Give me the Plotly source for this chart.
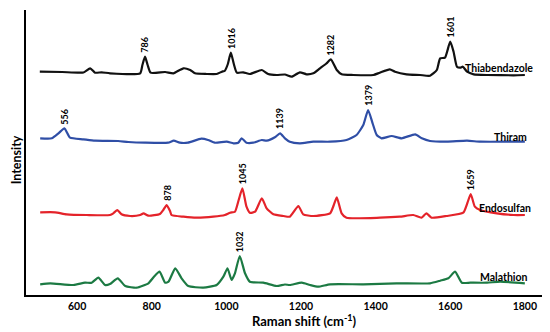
import plotly.graph_objects as go

# ---- data ----
thia_x = [500, 560, 617, 635, 648, 666, 688, 769, 775, 782, 789, 797, 836, 858, 885, 903, 916, 947, 974, 988, 996,
          1004, 1012, 1020, 1028, 1045, 1063, 1095, 1112, 1135, 1157, 1175, 1197, 1215, 1233, 1251, 1268, 1280, 1296,
          1309, 1340, 1394, 1411, 1438, 1452, 1483, 1519, 1546, 1564, 1573, 1586, 1600, 1609, 1618, 1627, 1634, 1645,
          1663, 1699, 1770, 1800]
thia_y = [3.3, 3.0, 2.5, 6.7, 2.3, 2.7, 1.7, 1.7, 10, 18.3, 10, 2.3, 3, 1.7, 6.7, 5, 1.7, 1, 1, 3.3, 4.3,
          11, 22.3, 11, 2.3, 2.7, 1, 5, 1, 0, 0.5, -1.7, 2.7, 0.7, 1.7, 6.7, 11.5, 15.7, 5,
          0.7, 0, 0, 2.3, 5.7, 3.3, 0.7, 0, -0.7, 5, 16.7, 17.3, 33.3, 23.3, 8.3, 7.3, 8.3, 3.3,
          0.7, 0, -0.3, 0]

thiram_x = [501, 532, 550, 566, 581, 617, 648, 710, 737, 782, 844, 859, 875, 897, 933, 951, 969, 1001, 1019, 1032,
            1041, 1054, 1072, 1095, 1108, 1130, 1144, 1157, 1170, 1197, 1233, 1278, 1322, 1349, 1367, 1380, 1392,
            1403, 1416, 1443, 1470, 1506, 1524, 1546, 1591, 1645, 1681, 1770, 1800]
thiram_y = [4.7, 4.7, 9.7, 14.7, 5.3, 3.7, 2.3, 2, 1, 0.3, 0.3, 2.3, 0.3, 0.3, 4.3, 3, 0.3, 1.3, -0.3, 0.3,
            4.7, 0.3, 0.3, 3, 2.3, 5.7, 9.7, 4.7, 1.3, -0.3, 1.3, 1.3, 3, 8, 18, 33, 19.7,
            8, 4.7, 7, 4.7, 8.7, 4.7, 2, 1.3, 2.3, 1.3, 1.3, 1.3]

endo_x = [501, 541, 572, 626, 688, 697, 708, 719, 742, 769, 778, 791, 822, 831, 840, 849, 853, 885, 920, 965, 996,
          1010, 1023, 1033, 1043, 1054, 1063, 1077, 1095, 1108, 1126, 1153, 1170, 1193, 1206, 1233, 1278, 1288, 1296,
          1309, 1322, 1412, 1465, 1501, 1523, 1536, 1550, 1590, 1635, 1646, 1655, 1666, 1680, 1725, 1770, 1800]
endo_y = [5.7, 5.7, 3.7, 3, 3, 4.7, 8, 3.7, 2, 3, 4.7, 2.3, 4, 8, 13, 7, 3, 1.3, 0.3, 1.3, 3,
          5.3, 6.3, 18, 29.7, 11.3, 5.3, 6.3, 19.7, 9.7, 3.7, 2, 1.3, 12, 3.7, 2, 4.7, 13, 20.7,
          4.7, 0.3, 0.3, 1.3, 3, 0.3, 4.7, 0.3, 2, 5.3, 15, 24, 11.3, 8, 4.7, 3, 3]

mala_x = [501, 528, 590, 621, 639, 657, 675, 688, 709, 729, 760, 791, 806, 821, 836, 845, 863, 880, 898, 938, 974,
          992, 1003, 1014, 1023, 1036, 1050, 1063, 1099, 1135, 1157, 1170, 1202, 1224, 1246, 1278, 1367, 1456, 1546,
          1573, 1595, 1613, 1631, 1654, 1699, 1734, 1800]
mala_y = [3.7, 4.7, 3, 5.3, 5.3, 10.3, 3, 4, 9.7, 2, 0.3, 4.7, 11.3, 16.3, 5.3, 6.3, 19.7, 9.7, 2, 0.3, 3,
          11.3, 19.7, 8, 14.7, 32, 14.7, 6.3, 5.3, 2, 3.5, 3, 5.3, 3, 1.3, 3.7, 3.7, 4.7, 4.7,
          7.3, 9.7, 16.3, 5.3, 5.3, 5.3, 6.3, 4.7]

series_names = ["Thiabendazole", "Thiram", "Endosulfan", "Malathion"]
peak_pos = {
    "Thiabendazole": [782, 1012, 1280, 1600],
    "Thiram": [566, 1144, 1380],
    "Endosulfan": [840, 1043, 1655],
    "Malathion": [1036],
}
peak_text = {
    "Thiabendazole": ["786", "1016", "1282", "1601"],
    "Thiram": ["556", "1139", "1379"],
    "Endosulfan": ["878", "1045", "1659"],
    "Malathion": ["1032"],
}
x_ticks = [600, 800, 1000, 1200, 1400, 1600, 1800]

# ---- styling / stacking ----
xs = [thia_x, thiram_x, endo_x, mala_x]
ys = [thia_y, thiram_y, endo_y, mala_y]
offsets = [220, 152, 77, 7]
colors = ["#111111", "#2F4EA6", "#E4232A", "#1C7A43"]
name_pos = [(1827, 227.3), (1811, 158.3), (1821, 86.7), (1813, 18.3)]
FONT = "Lato"

fig = go.Figure()
annotations = []
for name, x, y, off, col, (nx, ny) in zip(series_names, xs, ys, offsets, colors, name_pos):
    fig.add_trace(go.Scatter(x=x, y=[v + off for v in y], mode="lines",
                             line=dict(color=col, width=2.2, shape="spline", smoothing=0.5),
                             name=name, showlegend=False, hoverinfo="skip"))
    for px, txt in zip(peak_pos[name], peak_text[name]):
        pv = y[x.index(px)] + off
        annotations.append(dict(x=px, y=pv, xref="x", yref="y", text=txt, textangle=-90,
                                showarrow=False, xanchor="center", yanchor="bottom", yshift=2,
                                font=dict(family=FONT, size=9, color="#000", weight="bold")))
    annotations.append(dict(x=nx, y=ny, xref="x", yref="y", text=name, showarrow=False,
                            xanchor="right", yanchor="middle",
                            font=dict(family=FONT, size=10.5, color="#000", weight="bold")))

annotations.append(dict(x=0.539, y=-0.088, xref="paper", yref="paper",
                        text="Raman shift (cm<sup>-1</sup>)", showarrow=False,
                        xanchor="center", yanchor="middle",
                        font=dict(family=FONT, size=13, color="#000", weight="bold")))
annotations.append(dict(x=-0.0185, y=0.474, xref="paper", yref="paper", text="Intensity",
                        textangle=-90, showarrow=False, xanchor="center", yanchor="middle",
                        font=dict(family=FONT, size=12.5, color="#000", weight="bold")))

# the page body adds an 8px margin, so the plot area is placed 8px up/left to compensate
fig.update_layout(
    width=550, height=332,
    margin=dict(l=18, r=16, t=2, b=45),
    paper_bgcolor="white", plot_bgcolor="white",
    annotations=annotations,
    xaxis=dict(range=[463, 1846], tickvals=x_ticks, ticktext=[str(t) for t in x_ticks],
               showgrid=False, zeroline=False, showline=True, linecolor="#000", linewidth=2,
               ticks="", tickfont=dict(family=FONT, size=10.5, color="#000", weight="bold")),
    yaxis=dict(range=[0, 285], showgrid=False, zeroline=False, showline=True, linecolor="#000",
               linewidth=2, showticklabels=False, ticks=""),
)

fig.write_html("out.html")
